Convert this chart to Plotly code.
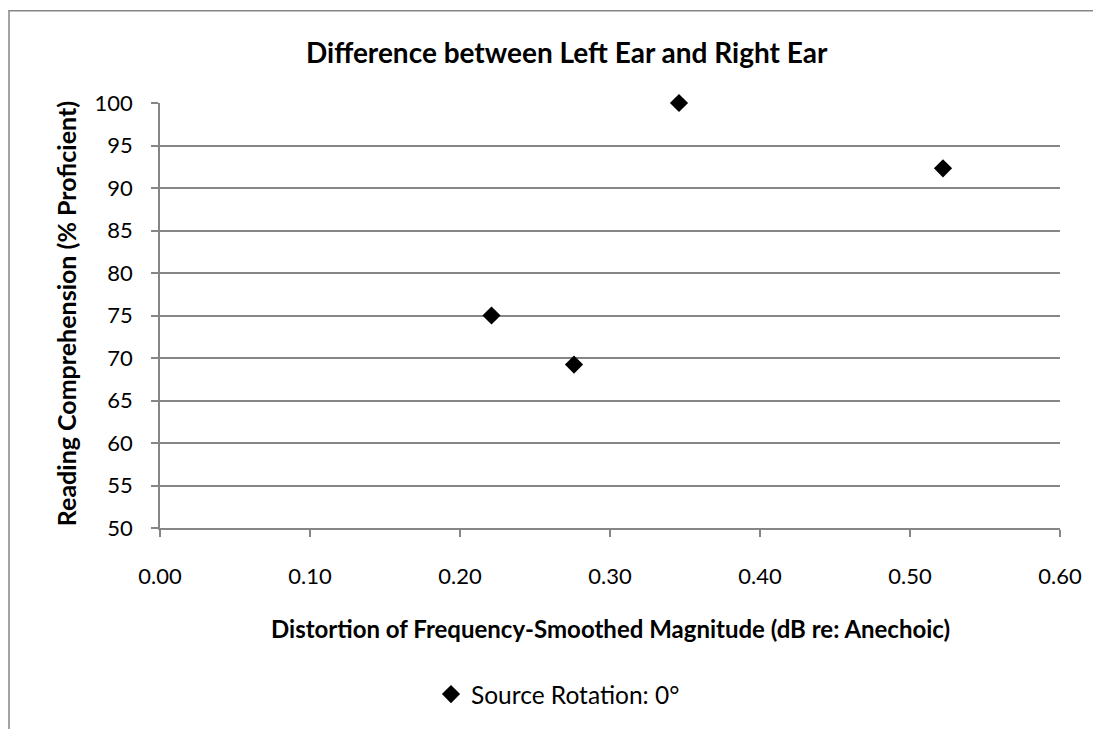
import plotly.graph_objects as go

x_vals = [0.221, 0.276, 0.346, 0.522]
y_vals = [75.0, 69.23, 100.0, 92.31]
series_name = "Source Rotation: 0°"
x_ticks = [0.0, 0.1, 0.2, 0.3, 0.4, 0.5, 0.6]
x_tick_labels = ["0.00", "0.10", "0.20", "0.30", "0.40", "0.50", "0.60"]
y_ticks = [50, 55, 60, 65, 70, 75, 80, 85, 90, 95, 100]

FONT = "Lato, Carlito, Calibri, sans-serif"
GRID = "#868686"

OFF = 8  # page body margin
W, H = 1101 - OFF, 729 - OFF
PL, PR, PT, PB = 160, 1060, 102.7, 530  # plot area in page pixels
L = PL - OFF
R = W - (PR - OFF)
T = PT - OFF
B = H - (PB - OFF)
pw, ph = PR - PL, PB - PT


def px_x(p):
    return (p - PL) / pw


def px_y(p):
    return (PB - p) / ph


fig = go.Figure()
fig.add_trace(go.Scatter(
    x=x_vals, y=y_vals, mode="markers", name=series_name,
    marker=dict(symbol="diamond", size=14, color="black"),
    cliponaxis=False,
))

fig.update_layout(
    width=W, height=H,
    margin=dict(l=L, r=R, t=T, b=B, pad=0),
    paper_bgcolor="white", plot_bgcolor="white",
    font=dict(family=FONT, size=22, color="black"),
    showlegend=True,
    legend=dict(orientation="h", x=px_x(558), y=px_y(697), xanchor="center", yanchor="middle",
                font=dict(size=24.5, family=FONT), itemwidth=30),
    xaxis=dict(range=[0, 0.6], tickvals=x_ticks, ticktext=x_tick_labels,
               showgrid=False, zeroline=False, showline=True, linecolor=GRID, linewidth=1.5,
               ticks="outside", ticklen=7, tickcolor=GRID, tickwidth=1.5,
               ticklabelstandoff=21, tickfont=dict(size=22, family=FONT)),
    yaxis=dict(range=[50, 100], tickvals=y_ticks,
               showgrid=True, gridcolor=GRID, gridwidth=1.5, zeroline=False,
               showline=True, linecolor=GRID, linewidth=1.5,
               ticks="outside", ticklen=7, tickcolor=GRID, tickwidth=1.5,
               ticklabelstandoff=14, tickfont=dict(size=22, family=FONT)),
    shapes=[dict(type="rect", xref="paper", yref="paper",
                 x0=px_x(9), x1=px_x(1120), y0=px_y(760), y1=px_y(10),
                 line=dict(color=GRID, width=1.5), fillcolor="rgba(0,0,0,0)", layer="below")],
    annotations=[
        dict(text="<b>Difference between Left Ear and Right Ear</b>", xref="paper", yref="paper",
             x=px_x(567), y=px_y(51), xanchor="center", yanchor="middle", showarrow=False,
             font=dict(size=28, family=FONT)),
        dict(text="<b>Distortion of Frequency-Smoothed Magnitude (dB re: Anechoic)</b>", xref="paper", yref="paper",
             x=px_x(610), y=px_y(631), xanchor="center", yanchor="middle", showarrow=False,
             font=dict(size=24, family=FONT)),
        dict(text="<b>Reading Comprehension (% Proficient)</b>", xref="paper", yref="paper",
             x=px_x(66), y=px_y(315), xanchor="center", yanchor="middle", showarrow=False,
             textangle=-90, font=dict(size=25, family=FONT)),
    ],
)

fig.write_html("out.html")
